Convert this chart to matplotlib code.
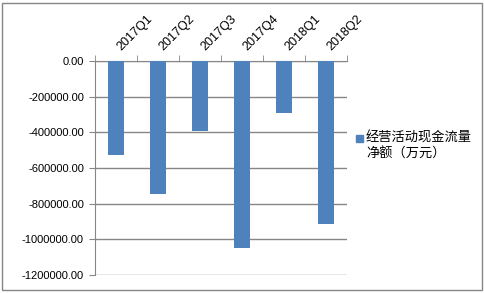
import matplotlib.pyplot as plt
import numpy as np
from matplotlib.patches import Rectangle

quarters = ['2017Q1', '2017Q2', '2017Q3', '2017Q4', '2018Q1', '2018Q2']
cash_flow = [-527000, -746000, -392000, -1049000, -292000, -914000]
y_ticks = [0, -200000, -400000, -600000, -800000, -1000000, -1200000]
legend_label = '经营活动现金流量\n净额（万元）'

plt.rcParams['font.family'] = ['Liberation Sans', 'Noto Sans CJK SC', 'DejaVu Sans']

fig = plt.figure(figsize=(4.85, 2.93), dpi=100)
ax = fig.add_axes([95 / 485, 1 - 275 / 293, 252 / 485, 214 / 293])

x = np.arange(len(quarters))
ax.bar(x, cash_flow, width=0.4, color='#4f81bd', zorder=3)

ax.set_xlim(-0.5, len(quarters) - 0.5)
ax.set_ylim(-1200000, 0)
ax.set_yticks(y_ticks)
ax.set_yticklabels(['%.2f' % v for v in y_ticks], fontsize=8)
ax.yaxis.grid(True, color='#868686', linewidth=1, zorder=0)

ax.xaxis.tick_top()
ax.set_xticks(x + 0.18)
ax.set_xticklabels(quarters, rotation=45, ha='left', va='bottom',
                   rotation_mode='anchor', fontsize=9)
ax.set_xticks(np.arange(-0.5, len(quarters)), minor=True)
ax.tick_params(axis='x', which='major', length=0, pad=6)
ax.tick_params(axis='x', which='minor', length=4, color='#868686', top=True, bottom=False)
ax.tick_params(axis='y', length=4, color='#868686', pad=4)

for s in ['right', 'bottom']:
    ax.spines[s].set_visible(False)
ax.spines['left'].set_color('#868686')
ax.spines['top'].set_color('#868686')

# legend
fig.patches.append(Rectangle((356 / 485, 1 - 142 / 293), 7 / 485, 7 / 293,
                             transform=fig.transFigure, color='#4f81bd'))
fig.text(366 / 485, 1 - 132 / 293, legend_label, fontsize=9.5, va='top',
         ha='left', linespacing=1.3, family=['Noto Sans CJK SC', 'DejaVu Sans'])

# figure border
fig.patches.append(Rectangle((2 / 485, 3 / 293), 480 / 485, 287 / 293,
                             transform=fig.transFigure, fill=False,
                             edgecolor='#868686', linewidth=1))

fig.savefig('out.png', dpi=100)
